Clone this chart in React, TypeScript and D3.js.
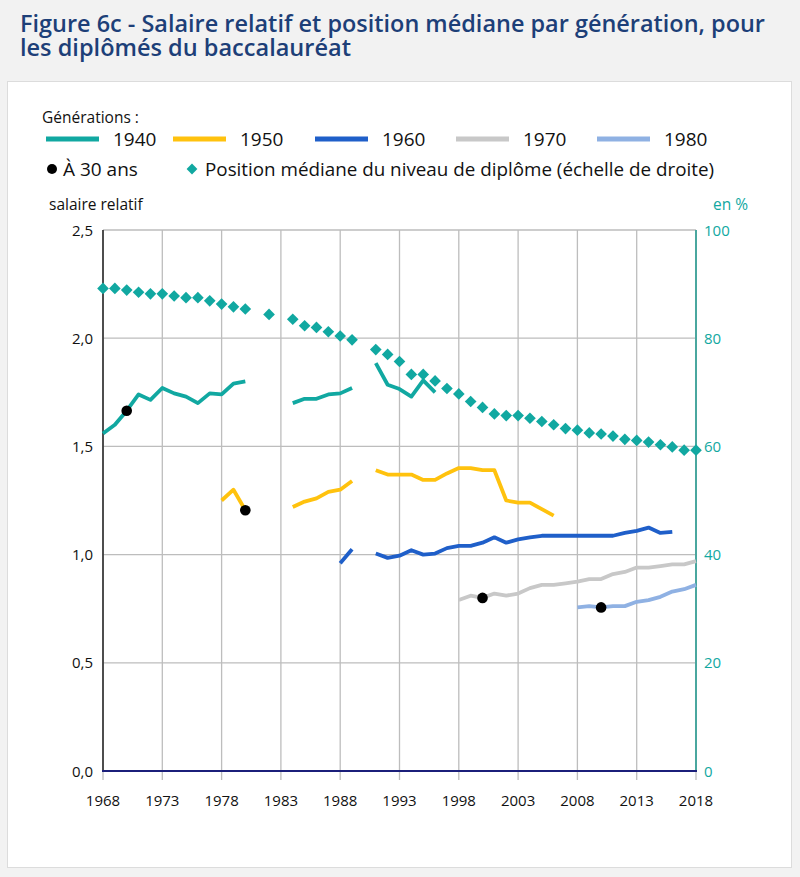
import * as d3 from "d3";

const years = d3.range(1968, 2019);

// salaire relatif par génération (null = pas de donnée)
const gen1940Years = d3.range(1968, 1997);
const gen1940 = [1.56, 1.6, 1.665, 1.74, 1.715, 1.77, 1.745, 1.73, 1.7, 1.745, 1.74, 1.79, 1.8, null, null, null,
  1.7, 1.72, 1.72, 1.74, 1.745, 1.77, null, 1.885, 1.785, 1.765, 1.73, 1.805, 1.75];
const gen1950Years = d3.range(1978, 2007);
const gen1950 = [1.25, 1.3, 1.205, null, null, null, 1.22, 1.245, 1.26, 1.29, 1.3, 1.34, null, 1.39, 1.37, 1.37,
  1.37, 1.345, 1.345, 1.375, 1.4, 1.4, 1.39, 1.39, 1.25, 1.24, 1.24, 1.21, 1.18];
const gen1960Years = d3.range(1988, 2017);
const gen1960 = [0.96, 1.025, null, 1.005, 0.985, 0.995, 1.02, 1.0, 1.005, 1.03, 1.04, 1.04, 1.055, 1.08, 1.055,
  1.07, 1.08, 1.087, 1.087, 1.087, 1.087, 1.087, 1.087, 1.087, 1.1, 1.11, 1.125, 1.1, 1.105];
const gen1970Years = d3.range(1998, 2019);
const gen1970 = [0.79, 0.81, 0.8, 0.82, 0.81, 0.82, 0.845, 0.86, 0.86, 0.867, 0.875, 0.887, 0.887, 0.91, 0.92,
  0.94, 0.94, 0.947, 0.955, 0.955, 0.97];
const gen1980Years = d3.range(2008, 2019);
const gen1980 = [0.756, 0.762, 0.756, 0.762, 0.762, 0.782, 0.79, 0.805, 0.829, 0.84, 0.86];

// à 30 ans
const at30Years = [1970, 1980, 2000, 2010];
const at30 = [1.665, 1.205, 0.8, 0.756];

// position médiane du niveau de diplôme, en % (1968-2018)
const median = [89.2, 89.2, 88.9, 88.5, 88.2, 88.2, 87.8, 87.5, 87.5, 86.9, 86.3, 85.8, 85.4, null, 84.4, null,
  83.5, 82.3, 82.0, 81.2, 80.4, 79.7, null, 77.9, 77.0, 75.7, 73.3, 73.3, 72.1, 70.7, 69.7, 68.3, 67.2, 66.0,
  65.7, 65.7, 65.2, 64.6, 64.0, 63.3, 63.0, 62.5, 62.3, 61.9, 61.3, 61.1, 60.8, 60.3, 59.9, 59.3, 59.3];

const generations = ["1940", "1950", "1960", "1970", "1980"];
const genColors = ["#11a8a1", "#ffc20e", "#1f5fc9", "#c8c8c8", "#8fb1e3"];
const xTicks = [1968, 1973, 1978, 1983, 1988, 1993, 1998, 2003, 2008, 2013, 2018];
const leftTicks = [0, 0.5, 1, 1.5, 2, 2.5];
const rightTicks = [0, 20, 40, 60, 80, 100];

const font = "'Open Sans', sans-serif";
const teal = "#11a8a1";

export default function App() {
  const x = d3.scaleLinear([1968, 2018], [103, 696]);
  const yL = d3.scaleLinear([0, 2.5], [771, 230]);
  const yR = d3.scaleLinear([0, 100], [771, 230]);

  const series = [
    { ys: gen1940Years, vs: gen1940 },
    { ys: gen1950Years, vs: gen1950 },
    { ys: gen1960Years, vs: gen1960 },
    { ys: gen1970Years, vs: gen1970 },
    { ys: gen1980Years, vs: gen1980 },
  ];
  const line = d3.line<[number, number | null]>()
    .defined((d) => d[1] != null)
    .x((d) => x(d[0]))
    .y((d) => yL(d[1] as number));

  const diamond = d3.symbol(d3.symbolSquare, 68)()!;
  const legendDiamond = d3.symbol(d3.symbolSquare, 58)()!;

  const legendX = [46, 173, 315, 456, 597];

  return (
    <svg width={800} height={877} style={{ position: "absolute", left: 0, top: 0 }} fontFamily={font}>
      <rect width={800} height={877} fill="#f2f2f2" />
      <text x={20} y={32} fontSize={22.5} fontWeight={600} fill="#1d3f78" textLength={745} lengthAdjust="spacingAndGlyphs">
        Figure 6c - Salaire relatif et position médiane par génération, pour
      </text>
      <text x={20} y={56} fontSize={22.5} fontWeight={600} fill="#1d3f78" textLength={331} lengthAdjust="spacingAndGlyphs">
        les diplômés du baccalauréat
      </text>
      <rect x={7.5} y={81.5} width={784} height={786} fill="#fff" stroke="#dcdcdc" />

      {/* légende */}
      <text x={42} y={123} fontSize={15.5} fill="#111">Générations :</text>
      {generations.map((g, i) => (
        <g key={g}>
          <line x1={legendX[i]} x2={legendX[i] + 53} y1={139} y2={139} stroke={genColors[i]} strokeWidth={5} />
          <text x={legendX[i] + 67} y={146} fontSize={19} fill="#111">{g}</text>
        </g>
      ))}
      <circle cx={52} cy={169} r={5} fill="#000" />
      <text x={63} y={176} fontSize={19} fill="#111">À 30 ans</text>
      <path d={legendDiamond} transform="translate(192,169) rotate(45)" fill={teal} />
      <text x={205} y={176} fontSize={19} fill="#111" textLength={509} lengthAdjust="spacingAndGlyphs">
        Position médiane du niveau de diplôme (échelle de droite)
      </text>

      <text x={49} y={210} fontSize={15.5} fill="#111">salaire relatif</text>
      <text x={748} y={210} fontSize={15.5} fill={teal} textAnchor="end">en %</text>

      {/* grille */}
      {xTicks.map((t) => (
        <g key={t}>
          <line x1={x(t)} x2={x(t)} y1={230} y2={780} stroke="#bdbdbd" strokeWidth={1.3} />
          <text x={x(t)} y={806} fontSize={15} fill="#111" textAnchor="middle">{t}</text>
        </g>
      ))}
      {leftTicks.map((t) => (
        <g key={t}>
          <line x1={103} x2={696} y1={yL(t)} y2={yL(t)} stroke="#bdbdbd" strokeWidth={1.3} />
          <text x={93} y={yL(t) + 5.5} fontSize={15} fill="#111" textAnchor="end">{d3.format(".1f")(t).replace(".", ",")}</text>
        </g>
      ))}
      {rightTicks.map((t) => (
        <text key={t} x={704} y={yR(t) + 5.5} fontSize={15} fill={teal}>{t}</text>
      ))}
      <line x1={103} x2={103} y1={230} y2={771} stroke="#222" strokeWidth={1.5} />
      <line x1={696} x2={696} y1={230} y2={771} stroke="#4aa79f" strokeWidth={2} />
      <line x1={102} x2={697} y1={771} y2={771} stroke="#1b1f7a" strokeWidth={2} />

      {/* position médiane */}
      {years.map((yr, i) =>
        median[i] == null ? null : (
          <path key={yr} d={diamond} transform={`translate(${x(yr)},${yR(median[i] as number)}) rotate(45)`} fill={teal} />
        )
      )}

      {/* générations */}
      {series.map((s, i) => (
        <path key={generations[i]} d={line(s.ys.map((yr, j) => [yr, s.vs[j]] as [number, number | null]))!}
          fill="none" stroke={genColors[i]} strokeWidth={3.8} strokeLinejoin="round" />
      ))}
      {at30Years.map((yr, i) => (
        <circle key={yr} cx={x(yr)} cy={yL(at30[i])} r={5.3} fill="#000" />
      ))}
    </svg>
  );
}
